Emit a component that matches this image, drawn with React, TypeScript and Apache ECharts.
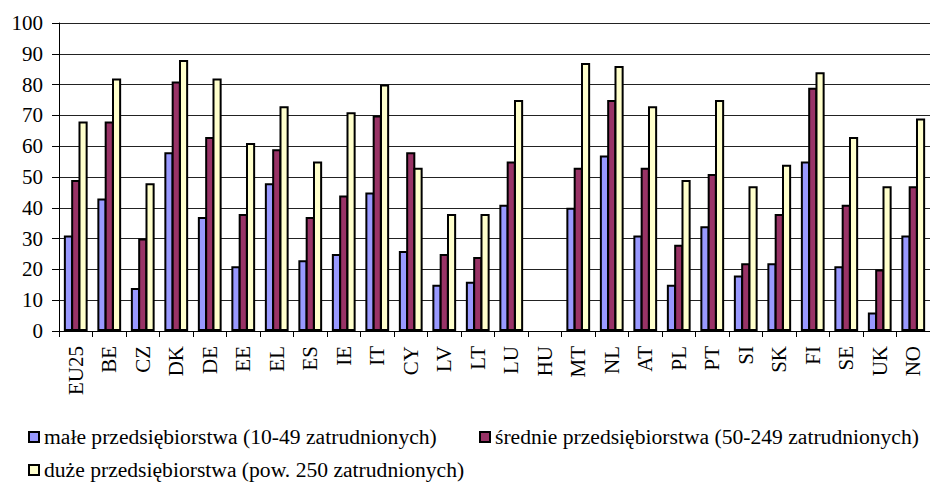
import React, { useEffect, useRef } from "react";
import * as echarts from "echarts";

const categories = ["EU25", "BE", "CZ", "DK", "DE", "EE", "EL", "ES", "IE", "IT", "CY", "LV", "LT", "LU", "HU", "MT", "NL", "AT", "PL", "PT", "SI", "SK", "FI", "SE", "UK", "NO"];

const seriesNames = [
  "małe przedsiębiorstwa (10-49 zatrudnionych)",
  "średnie przedsiębiorstwa (50-249 zatrudnionych)",
  "duże przedsiębiorstwa (pow. 250 zatrudnionych)",
];

const small = [31, 43, 14, 58, 37, 21, 48, 23, 25, 45, 26, 15, 16, 41, null, 40, 57, 31, 15, 34, 18, 22, 55, 21, 6, 31];
const medium = [49, 68, 30, 81, 63, 38, 59, 37, 44, 70, 58, 25, 24, 55, null, 53, 75, 53, 28, 51, 22, 38, 79, 41, 20, 47];
const large = [68, 82, 48, 88, 82, 61, 73, 55, 71, 80, 53, 38, 38, 75, null, 87, 86, 73, 49, 75, 47, 54, 84, 63, 47, 69];

const yTicks = { min: 0, max: 100, interval: 10 };

const colors = ["#9999FF", "#993366", "#FFFFCC"];

const FONT = "'Liberation Serif', 'Times New Roman', 'DejaVu Serif', serif";

export default function App() {
  const ref = useRef<HTMLDivElement>(null);
  useEffect(() => {
    if (!ref.current) return;
    const chart = echarts.init(ref.current, null, { renderer: "svg" });
    const values = [small, medium, large];
    const legendBase = {
      orient: "horizontal" as const,
      padding: 0,
      itemWidth: 10,
      itemHeight: 10,
      icon: "rect",
      itemStyle: { borderColor: "#000", borderWidth: 2 },
      textStyle: { fontFamily: FONT, fontSize: 21.6, color: "#000" },
      selectedMode: false,
    };
    chart.setOption({
      animation: false,
      backgroundColor: "#fff",
      textStyle: { fontFamily: FONT },
      legend: [
        { ...legendBase, data: [seriesNames[0]], left: 28, top: 426 },
        { ...legendBase, data: [seriesNames[1]], left: 479, top: 426 },
        { ...legendBase, data: [seriesNames[2]], left: 28, top: 459 },
      ],
      grid: { left: 59, top: 23, width: 880, height: 308, containLabel: false },
      xAxis: {
        type: "category",
        data: categories,
        axisLine: { show: true, lineStyle: { color: "#000", width: 1 } },
        axisTick: { show: true, length: 6, lineStyle: { color: "#000" } },
        axisLabel: {
          interval: 0,
          rotate: 90,
          margin: 15,
          fontFamily: FONT,
          fontSize: 21,
          color: "#000",
        },
        splitLine: { show: false },
      },
      yAxis: {
        type: "value",
        min: yTicks.min,
        max: yTicks.max,
        interval: yTicks.interval,
        axisLine: { show: true, lineStyle: { color: "#000", width: 1 } },
        axisTick: { show: true, length: 7, lineStyle: { color: "#000" } },
        axisLabel: { margin: 16, fontFamily: FONT, fontSize: 21, color: "#000" },
        splitLine: { show: true, lineStyle: { color: "#222", width: 1 } },
      },
      series: values.map((v, i) => ({
        name: seriesNames[i],
        type: "bar",
        data: v,
        barGap: "-20%",
        barCategoryGap: "29%",
        itemStyle: { color: colors[i], borderColor: "#000", borderWidth: 2 },
      })),
    });
    return () => chart.dispose();
  }, []);
  return (
    <div
      ref={ref}
      style={{ position: "absolute", left: 0, top: 0, width: 930, height: 482 }}
    />
  );
}
